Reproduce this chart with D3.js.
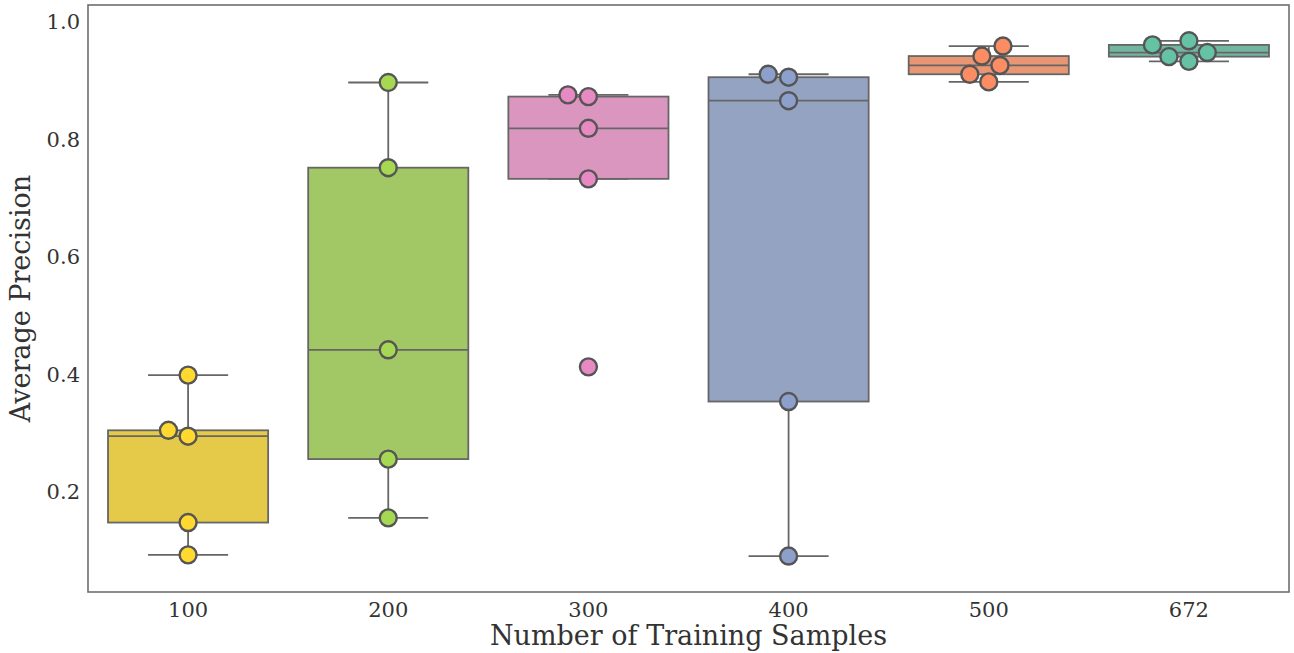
<!DOCTYPE html>
<html>
<head>
<meta charset="utf-8">
<script src="https://cdn.jsdelivr.net/npm/d3@7"></script>
<style>
  html, body { margin: 0; padding: 0; background: #fff; }
  svg { display: block; }
  text { font-family: "DejaVu Serif", serif; fill: #333; }
</style>
</head>
<body>
<svg id="chart" width="1294" height="653"></svg>
<script>
// Average precision per run, grouped by training-set size
const categories = ["100", "200", "300", "400", "500", "672"];
const apValues = [
  [0.093, 0.148, 0.295, 0.305, 0.399],
  [0.156, 0.256, 0.442, 0.752, 0.897],
  [0.413, 0.733, 0.819, 0.873, 0.876],
  [0.091, 0.354, 0.866, 0.906, 0.911],
  [0.898, 0.911, 0.926, 0.942, 0.959],
  [0.933, 0.941, 0.948, 0.961, 0.968]
];
const palette = ["#ffd92f", "#a6d854", "#e78ac3", "#8da0cb", "#fc8d62", "#66c2a5"];
const yTicks = [0.2, 0.4, 0.6, 0.8, 1.0];

const svg = d3.select("#chart");
const margin = { left: 88, right: 5, top: 5, bottom: 61 };
const W = 1294, H = 653;
const x = d3.scaleBand().domain(categories)
  .range([margin.left, W - margin.right]).paddingInner(0).paddingOuter(0);
const y = d3.scaleLinear().domain([0.0298, 1.0289]).range([H - margin.bottom, margin.top]);

const boxW = x.bandwidth() * 0.8;
const edge = "#666666";

function quant(sorted, p) { return d3.quantileSorted(sorted, p); }

const g = svg.append("g");

categories.forEach((cat, i) => {
  const vals = apValues[i].slice().sort(d3.ascending);
  const q1 = quant(vals, 0.25), med = quant(vals, 0.5), q3 = quant(vals, 0.75);
  const iqr = q3 - q1;
  const lo = d3.min(vals.filter(v => v >= q1 - 1.5 * iqr));
  const hi = d3.max(vals.filter(v => v <= q3 + 1.5 * iqr));
  const cx = x(cat) + x.bandwidth() / 2;
  const base = d3.hsl(palette[i]);
  base.s *= 0.75;
  const boxFill = base.formatHex();
  const grp = g.append("g");

  // whiskers and caps
  grp.append("line").attr("x1", cx).attr("x2", cx).attr("y1", y(q3)).attr("y2", y(hi))
    .attr("stroke", edge).attr("stroke-width", 1.8);
  grp.append("line").attr("x1", cx).attr("x2", cx).attr("y1", y(q1)).attr("y2", y(lo))
    .attr("stroke", edge).attr("stroke-width", 1.8);
  [lo, hi].forEach(v => {
    grp.append("line").attr("x1", cx - boxW / 4).attr("x2", cx + boxW / 4)
      .attr("y1", y(v)).attr("y2", y(v)).attr("stroke", edge).attr("stroke-width", 1.8);
  });
  // box and median
  grp.append("rect").attr("x", cx - boxW / 2).attr("width", boxW)
    .attr("y", y(q3)).attr("height", y(q1) - y(q3))
    .attr("fill", boxFill).attr("stroke", edge).attr("stroke-width", 1.8);
  grp.append("line").attr("x1", cx - boxW / 2).attr("x2", cx + boxW / 2)
    .attr("y1", y(med)).attr("y2", y(med)).attr("stroke", edge).attr("stroke-width", 1.8);
});

// Beeswarm placement of individual runs
const R2 = 19.6; // sum of two radii in px
function swarm(values, cx) {
  const pts = values.slice().sort(d3.ascending).map(v => ({ v, py: y(v) }));
  const placed = [];
  pts.forEach(p => {
    const neigh = placed.filter(q => Math.abs(q.py - p.py) < R2);
    const cands = [cx];
    let leftFirst = true;
    neigh.forEach(q => {
      const dy = p.py - q.py;
      const dx = Math.sqrt(Math.max(R2 * R2 - dy * dy, 0)) * 1.05;
      const cl = q.px - dx, cr = q.px + dx;
      if (leftFirst) cands.push(cl, cr); else cands.push(cr, cl);
      leftFirst = !leftFirst;
    });
    const order = d3.range(cands.length).sort((a, b) =>
      (Math.abs(cands[a] - cx) - Math.abs(cands[b] - cx)) || (a - b));
    let chosen = cx;
    for (const k of order) {
      const c = cands[k];
      const ok = neigh.every(q => Math.hypot(q.px - c, q.py - p.py) >= R2 - 1e-6);
      if (ok) { chosen = c; break; }
    }
    p.px = chosen;
    placed.push(p);
  });
  return placed;
}

categories.forEach((cat, i) => {
  const cx = x(cat) + x.bandwidth() / 2;
  const pts = swarm(apValues[i], cx);
  g.append("g").selectAll("circle").data(pts).join("circle")
    .attr("cx", d => d.px).attr("cy", d => d.py).attr("r", 8.5)
    .attr("fill", palette[i]).attr("stroke", "#555555").attr("stroke-width", 2.4);
});

// Frame
svg.append("rect").attr("x", margin.left).attr("y", margin.top)
  .attr("width", W - margin.left - margin.right).attr("height", H - margin.top - margin.bottom)
  .attr("fill", "none").attr("stroke", "#6e6e6e").attr("stroke-width", 1.6);

// Axes
const xAxis = d3.axisBottom(x).tickSize(0).tickPadding(10);
svg.append("g").attr("transform", `translate(0,${H - margin.bottom})`).call(xAxis)
  .call(s => s.select(".domain").remove())
  .selectAll("text").style("font-size", "21px").style("font-family", "DejaVu Serif, serif").attr("fill", "#333");

const yAxis = d3.axisLeft(y).tickValues(yTicks).tickFormat(d3.format(".1f")).tickSize(0).tickPadding(8);
svg.append("g").attr("transform", `translate(${margin.left},0)`).call(yAxis)
  .call(s => s.select(".domain").remove())
  .selectAll("text").style("font-size", "21px").style("font-family", "DejaVu Serif, serif").attr("fill", "#333");

svg.append("text").attr("x", (margin.left + W - margin.right) / 2).attr("y", 645)
  .attr("text-anchor", "middle").style("font-size", "27px").text("Number of Training Samples");
svg.append("text").attr("transform", `translate(30,${(margin.top + H - margin.bottom) / 2}) rotate(-90)`)
  .attr("text-anchor", "middle").style("font-size", "27px").text("Average Precision");
</script>
</body>
</html>
